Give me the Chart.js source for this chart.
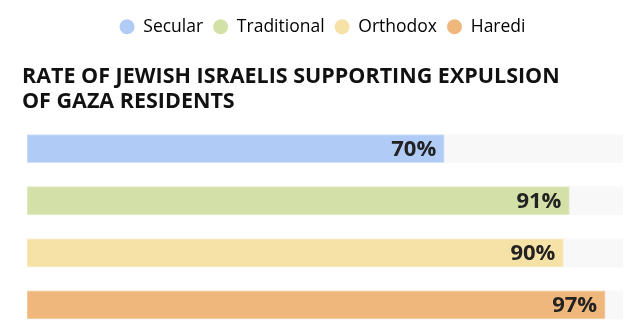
<!DOCTYPE html>
<html>
<head>
<meta charset="utf-8">
<script src="https://cdn.jsdelivr.net/npm/chart.js@4/dist/chart.umd.min.js"></script>
<style>
html,body{margin:0;padding:0;background:#fff;}
#wrap{width:624px;height:334px;position:relative;}
</style>
</head>
<body>
<div id="wrap"><canvas id="c" width="624" height="334"></canvas></div>
<script>
const categories = ["Secular", "Traditional", "Orthodox", "Haredi"];
const values = [70, 91, 90, 97];
const trackValues = [100, 100, 100, 100];
const valueLabels = ["70%", "91%", "90%", "97%"];
const titleLines = ["RATE OF JEWISH ISRAELIS SUPPORTING EXPULSION", "OF GAZA RESIDENTS"];
const barColors = ["#b0cbf6", "#d3e1a9", "#f6e1a7", "#efb77c"];
const barBorders = ["#d4e2f9", "#e3ecc8", "#f9ecc6", "#f5d2ad"];

const valueLabelPlugin = {
  id: 'valueLabels',
  afterDatasetsDraw(chart) {
    const meta = chart.getDatasetMeta(1);
    const ctx = chart.ctx;
    ctx.save();
    ctx.font = 'bold 22px "Open Sans"';
    ctx.fillStyle = '#222222';
    ctx.textAlign = 'right';
    ctx.textBaseline = 'middle';
    meta.data.forEach((el, i) => {
      ctx.fillText(valueLabels[i], el.x - 8, el.y + 1);
    });
    ctx.restore();
  }
};

new Chart(document.getElementById('c'), {
  type: 'bar',
  data: {
    labels: categories,
    datasets: [
      {
        label: 'track',
        data: trackValues,
        backgroundColor: '#f8f8f8',
        borderWidth: 0,
        grouped: false,
        order: 2,
        barThickness: 28
      },
      {
        label: 'value',
        data: values,
        backgroundColor: barColors,
        borderColor: barBorders,
        borderWidth: 1,
        borderSkipped: false,
        grouped: false,
        order: 1,
        barThickness: 28
      }
    ]
  },
  options: {
    indexAxis: 'y',
    responsive: false,
    animation: false,
    layout: { padding: { left: 22, right: 1, top: 8, bottom: 3 } },
    scales: {
      x: { display: false, min: 0, max: 100 },
      y: {
        display: true,
        ticks: { display: false },
        grid: { display: false },
        border: { display: false },
        afterFit(scale) { scale.width = 5; }
      }
    },
    plugins: {
      tooltip: { enabled: false },
      legend: {
        position: 'top',
        onClick: null,
        labels: {
          usePointStyle: true,
          pointStyle: 'circle',
          boxHeight: 10.6,
          pointStyleWidth: 15,
          padding: 10,
          color: '#222222',
          font: { family: '"Open Sans"', size: 17.5 },
          generateLabels() {
            return categories.map((c, i) => ({
              text: c,
              fillStyle: barColors[i],
              strokeStyle: barColors[i],
              lineWidth: 0,
              pointStyle: 'circle',
              hidden: false,
              datasetIndex: 1,
              index: i
            }));
          }
        }
      },
      title: {
        display: true,
        text: titleLines,
        align: 'start',
        weight: 500,
        color: '#111111',
        font: { family: '"Open Sans"', size: 21.5, weight: 'bold', lineHeight: '25px' },
        padding: { top: 19, bottom: 8 }
      }
    }
  },
  plugins: [valueLabelPlugin]
});
</script>
</body>
</html>
